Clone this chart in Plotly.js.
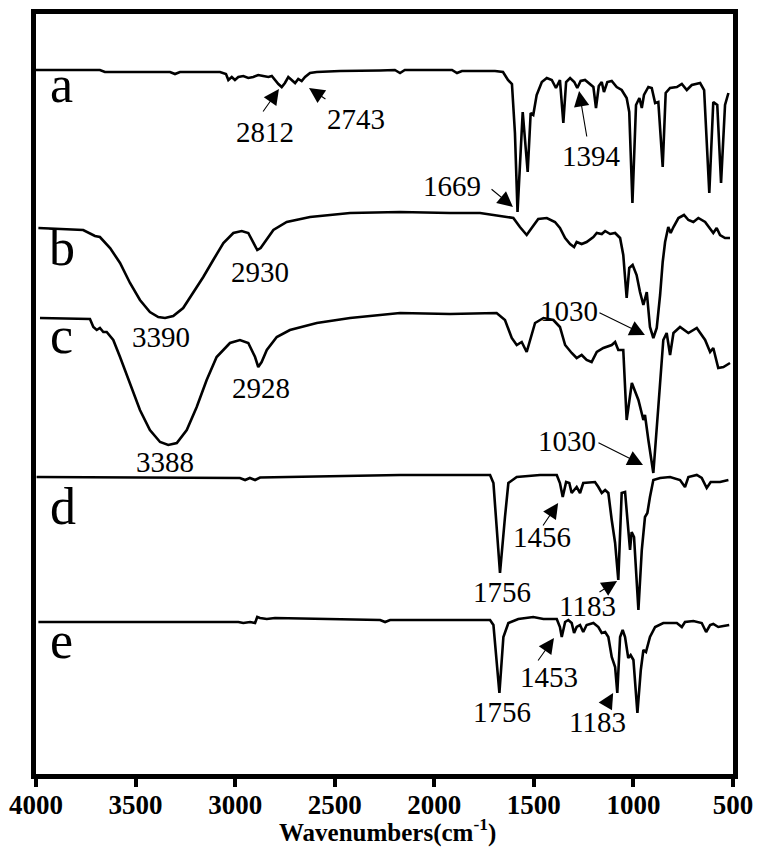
<!DOCTYPE html>
<html>
<head>
<meta charset="utf-8">
<script src="https://cdn.plot.ly/plotly-3.0.1.min.js"></script>
<style>
  html, body { margin: 0; padding: 0; background: #fff; }
  #chart { width: 767px; height: 855px; }
</style>
</head>
<body>
<div id="chart"></div>
<script>
/* FTIR spectra a–e, stacked with offsets (transmittance, arbitrary units) */

const wnA = [4000, 3679, 3654, 3327, 3302, 3277, 3076, 3046, 3034, 3017, 3001, 2984, 2959, 2934, 2909, 2884,
  2859, 2833, 2816, 2800, 2783, 2766, 2750, 2733, 2716, 2699, 2683, 2666, 2649, 2624, 2590, 2473, 2272,
  2198, 2172, 2148, 1971, 1911, 1886, 1861, 1695, 1655, 1630, 1610, 1595, 1582, 1556, 1531, 1516, 1503,
  1486, 1460, 1435, 1410, 1389, 1369, 1352, 1338, 1318, 1297, 1282, 1265, 1243, 1218, 1201, 1188, 1174,
  1159, 1148, 1131, 1109, 1084, 1059, 1034, 1021, 1005, 987, 970, 958, 947, 925, 908, 891, 875, 853, 838,
  816, 782, 757, 732, 707, 665, 645, 619, 599, 579, 560, 540, 523];
const tA = [704, 704, 702, 702, 700, 702, 702, 700, 694, 697, 694, 697, 698, 696, 697, 699,
  698, 697, 698, 694, 690, 687, 691, 697, 694, 691, 695, 693, 697, 701, 702, 703, 703.5,
  704, 701, 704, 704, 704, 701, 703, 703, 702, 694, 690, 641, 562, 662, 602, 661, 659,
  679, 692, 696, 694, 686, 694, 651, 692, 696, 692, 686, 693, 694, 690, 687, 666, 688,
  692, 682, 692, 693, 687, 684, 676, 662, 571, 669, 676, 666, 679, 687, 686, 671, 672, 607, 681,
  686, 687, 690, 684, 689, 691, 684, 581, 672, 669, 591, 669, 681];

const wnB = [3988, 3763, 3704, 3679, 3628, 3578, 3528, 3478, 3428, 3386, 3352, 3311, 3261, 3210, 3160,
  3110, 3059, 3009, 2967, 2934, 2909, 2889, 2872, 2850, 2808, 2741, 2624, 2423, 2172, 1921, 1770, 1636,
  1603, 1570, 1536, 1511, 1478, 1435, 1394, 1369, 1343, 1318, 1298, 1285, 1260, 1235, 1201, 1184, 1159,
  1142, 1117, 1092, 1067, 1051, 1034, 1021, 1004, 984, 967, 950, 933, 917, 900, 883, 866, 853, 841, 825,
  813, 799, 774, 746, 724, 699, 674, 640, 615, 599, 582, 565, 540, 515];
const tB = [546, 544, 538, 537, 526, 511, 491, 474, 462, 457, 456, 458, 466, 481, 497,
  514, 531, 541, 543, 541, 532, 524, 526, 532, 544, 552, 557, 561, 562, 561, 561, 557,
  556, 547, 539, 546, 555, 556, 552, 546, 536, 530, 527, 532, 530, 532, 537, 541, 540,
  543, 540, 541, 536, 519, 476, 506, 509, 499, 482, 469, 482, 447, 436, 446, 479, 512, 532, 547,
  541, 547, 556, 559, 554, 552, 556, 552, 546, 541, 546, 539, 536, 536];

const wnC = [3980, 3729, 3712, 3695, 3679, 3662, 3645, 3612, 3578, 3528, 3478, 3428, 3377, 3336, 3293,
  3243, 3193, 3143, 3093, 3026, 2976, 2934, 2900, 2884, 2867, 2841, 2791, 2725, 2590, 2423, 2172, 1921,
  1770, 1687, 1645, 1611, 1586, 1561, 1536, 1519, 1494, 1452, 1402, 1369, 1343, 1310, 1285, 1260, 1235,
  1210, 1184, 1151, 1109, 1092, 1076, 1051, 1034, 1008, 975, 950, 942, 925, 900, 875, 850, 833, 816, 799,
  766, 724, 682, 640, 615, 599, 574, 548, 515];
const tC = [456, 455, 447, 444, 446, 442, 442, 434, 417, 391, 364, 344, 332, 329, 331,
  344, 367, 394, 417, 431, 434, 431, 417, 407, 412, 424, 437, 444, 451, 456, 461, 460,
  461, 461, 454, 436, 429, 432, 422, 434, 451, 456, 454, 447, 429, 421, 416, 419, 414,
  412, 422, 426, 429, 432, 424, 424, 354, 391, 374, 354, 359, 334, 301, 367, 434, 441, 419, 441,
  447, 441, 446, 434, 422, 426, 406, 407, 411];

const wnD = [3997, 2976, 2950, 2926, 2900, 2875, 2172, 1720, 1703, 1670, 1645, 1628, 1586, 1469, 1385,
  1369, 1355, 1338, 1322, 1310, 1285, 1268, 1252, 1218, 1193, 1176, 1159, 1142, 1126, 1109, 1092, 1076,
  1059, 1042, 1026, 1017, 1009, 997, 975, 958, 942, 930, 917, 900, 866, 816, 766, 741, 724, 682, 657,
  632, 612, 590, 565, 523];
const tD = [297, 296, 294, 296, 294, 296.5, 299, 299, 291, 201, 257, 291, 297, 299, 299,
  291, 277, 292, 291, 281, 287, 281, 291, 292, 292, 287, 281, 284, 281, 254, 231, 194,
  281, 282, 241, 224, 242, 237, 164, 224, 257, 261, 277, 294, 296, 297, 294, 287, 297, 299, 296,
  286, 292, 292, 292, 294];

const wnE = [3988, 2984, 2959, 2925, 2900, 2889, 2875, 2841, 2800, 2272, 2247, 2222, 2021, 1720, 1703,
  1673, 1653, 1628, 1578, 1503, 1452, 1385, 1369, 1360, 1343, 1327, 1310, 1298, 1285, 1268, 1252, 1235,
  1201, 1176, 1159, 1142, 1126, 1109, 1092, 1081, 1067, 1054, 1042, 1026, 1014, 1000, 980, 963, 950, 937,
  917, 891, 850, 782, 757, 741, 699, 657, 635, 615, 599, 574, 548, 519];
const tE = [152, 152, 151, 152, 151, 157, 156, 155, 156, 154, 152, 154, 154, 154, 149,
  81, 137, 151, 155, 157, 155, 155, 147, 137, 152, 154, 151, 141, 147, 149, 142, 149,
  151, 147, 141, 142, 137, 117, 107, 81, 137, 144, 137, 116, 119, 114, 61, 104, 124, 122,
  137, 147, 151, 151, 147, 152, 153, 151, 142, 149, 150, 147, 148, 149];

const xTicks = [4000, 3500, 3000, 2500, 2000, 1500, 1000, 500];

// sample letters: [label, wavenumber, T]
const sampleLabels = [
  ['a', 3874, 690], ['b', 3869, 527], ['c', 3874, 439], ['d', 3864, 268], ['e', 3874, 134],
];

// peak labels: [text, wavenumber, T]
const peakLabels = [
  ['2812', 2850, 642], ['2743', 2393, 655], ['1394', 1213, 618], ['1669', 1911, 588],
  ['2930', 2875, 502], ['3390', 3372, 437], ['2928', 2870, 386], ['3388', 3352, 312],
  ['1030', 1323, 463], ['1030', 1333, 333], ['1456', 1459, 237], ['1756', 1660, 182],
  ['1183', 1233, 168], ['1453', 1424, 97], ['1756', 1660, 62], ['1183', 1178, 52],
];

// arrows: [tail wn, tail T, tip wn, tip T]
const peakArrows = [
  [2865, 661, 2780, 685], [2539, 674, 2629, 686], [1233, 636, 1273, 683], [1720, 586, 1605, 567],
  [1178, 462, 942, 439], [1183, 332, 952, 309], [1459, 247, 1378, 271], [1178, 181, 1082, 193],
  [1484, 112, 1399, 136], [1143, 67, 1102, 81],
];

const SERIF = 'Liberation Serif';

const series = [[wnA, tA], [wnB, tB], [wnC, tC], [wnD, tD], [wnE, tE]];
const traces = series.map(([x, y]) => ({
  x: x, y: y,
  type: 'scatter',
  mode: 'lines',
  line: { color: '#000', width: 2.6 },
  hoverinfo: 'skip',
}));

const annotations = [];
sampleLabels.forEach(([t, x, y]) => {
  annotations.push({
    x: x, y: y, xref: 'x', yref: 'y', text: t, showarrow: false,
    font: { family: SERIF, size: 52, color: '#000' },
  });
});
peakLabels.forEach(([t, x, y]) => {
  annotations.push({
    x: x, y: y, xref: 'x', yref: 'y', text: t, showarrow: false,
    font: { family: SERIF, size: 29, color: '#000' },
  });
});
peakArrows.forEach(([ax, ay, x, y]) => {
  annotations.push({
    x: x, y: y, ax: ax, ay: ay, xref: 'x', yref: 'y', axref: 'x', ayref: 'y',
    text: '', showarrow: true, arrowhead: 2, arrowsize: 2.8, arrowwidth: 1.1, arrowcolor: '#000',
  });
});

// axis title, placed as an annotation so it can sit closer to the tick labels
annotations.push({
  x: 0.505, y: -0.074, xref: 'paper', yref: 'paper', yanchor: 'middle',
  text: '<b>Wavenumbers(cm<sup>-1</sup>)</b>', showarrow: false,
  font: { family: SERIF, size: 25, color: '#000' },
});

const layout = {
  width: 767,
  height: 855,
  paper_bgcolor: '#fff',
  plot_bgcolor: '#fff',
  showlegend: false,
  margin: { l: 36, r: 34, t: 14, b: 81 },
  xaxis: {
    range: [4000, 500],
    tickvals: xTicks,
    ticktext: xTicks.map(String),
    ticks: 'outside', ticklen: 8, tickwidth: 4, tickcolor: '#000',
    ticklabelstandoff: -5,
    showline: true, linewidth: 5, linecolor: '#000', mirror: true,
    showgrid: false, zeroline: false,
    tickfont: { family: SERIF, size: 27, color: '#000', weight: 'bold' },
  },
  yaxis: {
    range: [0, 760],
    showticklabels: false, ticks: '',
    showline: true, linewidth: 5, linecolor: '#000', mirror: true,
    showgrid: false, zeroline: false,
  },
  annotations: annotations,
};

Plotly.newPlot('chart', traces, layout, { displayModeBar: false, staticPlot: true });
</script>
</body>
</html>
